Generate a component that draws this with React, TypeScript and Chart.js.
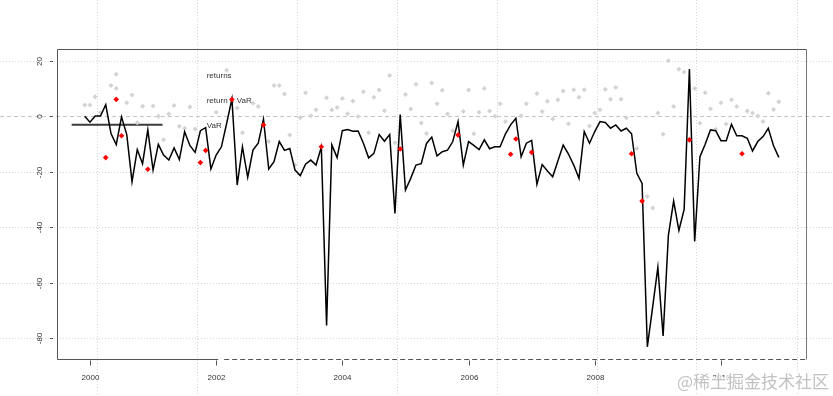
import React, { useEffect, useRef } from 'react';
import { Chart, registerables } from 'chart.js';

Chart.register(...registerables);

// first observation: December 1999, monthly
const START = 1999 + 11 / 12;

// VaR estimate (black line)
const varLine = [
  0, -2.1, 0.1, 0.1, 4.2, -6.2, -10.2, -0.2, -6.6, -23.6, -12, -17.1,
  -4.9, -19.4, -10.1, -14, -15.8, -11.4, -15.6, -5.6, -10.5, -13, -5.2, -4.1,
  -19, -14, -11, -2.5, 6.3, -24.8, -11, -22, -12.2, -9.7, -1, -19,
  -16.4, -9.1, -12.3, -11.6, -19.4, -21.4, -17.3, -15.8, -17.6, -11.1, -75.5, -10.3,
  -14.9, -5.2, -4.8, -5.4, -5.3, -9.7, -15, -13.4, -6.6, -9, -6.6, -35.1,
  0.6, -26.6, -22.4, -17.6, -17.1, -9.8, -7.5, -14.3, -12.8, -12.2, -9.1, -1.9,
  -17.6, -9.1, -10.5, -12, -8.5, -11.7, -11, -11, -6.4, -3.1, -0.7, -14.6,
  -9.7, -8.7, -24.5, -17.4, -19.7, -21.8, -16, -10.4, -13.6, -17.6, -22.4, -5.5,
  -9.7, -5.5, -1.9, -2.2, -4.3, -3.1, -5.3, -4.3, -6.3, -20.6, -24.2, -83.2,
  -69, -54.5, -79.3, -43, -30.6, -41.2, -33.6, 17.1, -45.2, -14.6, -10.1, -4.9,
  -5.2, -8.8, -8.8, -2.9, -7, -7, -7.9, -12.5, -9.1, -7.3, -4.3, -10.6,
  -14.8,
];

// returns (grey points); null where the month is drawn as an exceedance
const returns = [
  4.1, 4.1, 7.1, 1.3, null, 11.1, 15.2, null, 4.9, 7.7, -2.3, 3.6,
  null, 3.7, 0, -8.5, 0.8, 3.9, -3.6, -4.3, 3.4, -4.6, null, null,
  null, 1.5, null, 16.6, null, 3.0, -5.9, null, 4.7, 3.5, null, -9.1,
  11.1, 11.1, 8.1, -6.7, -17.5, -0.5, 8.5, 0.2, 2.4, null, 6.7, 2.3,
  3.2, 6.4, 0.9, 5.5, -0.1, 8.9, -5.9, 6.9, 9.5, 2.0, 14.7, -9.5,
  null, 7.9, 2.6, 11.6, -2.4, -6.2, 12.0, 4.5, 9.4, 0.8, -5.2, null,
  1.7, 9.5, -6.3, 1.5, 10.0, 1.9, 0, 4.5, -1.9, null, null, 0.2,
  4.5, null, 8.2, 1.7, 5.4, -1.0, 6.0, 9.1, -2.7, 9.6, 6.9, 9.6,
  -3.5, 1.2, 2.4, 9.8, 6.2, 10.4, 6.2, -0.5, null, -11.6, null, -28.9,
  -33.1, 1.2, -6.5, 20.1, 3.5, 17.0, 16.0, null, 10.0, -2.5, 8.5, 2.7,
  -4.7, 4.9, -2.8, 6.0, 3.5, null, 1.9, 1.2, 0.1, -1.9, 8.3, 2.5,
  5.3,
];
const extraIdx = [6];
const extraVal = [10];

// returns below VaR (red points)
const exceedIdx = [4, 6, 7, 12, 22, 23, 28, 34, 45, 60, 71, 81, 82, 85, 104, 106, 115, 125];
const exceedVal = [-14.9, 6.1, -7, -19.1, -16.7, -12.3, 6.1, -3.1, -11, -11.8, -6.7, -13.7, -8.2, -13, -13.5, -30.6, -8.5, -13.5];

const xTicks = [2000, 2002, 2004, 2006, 2008, 2010];
const yTicks = [20, 0, -20, -40, -60, -80];
const gridX = [2000.11, 2001.69, 2003.28, 2004.86, 2006.45, 2008.03, 2009.61, 2011.2];

const legendText = ['returns', 'return < VaR', 'VaR'];
const legendTextY = [14.7, 5.5, -3.5];
const legendTextX = 2001.85;
const legendLineX = [1999.71, 2001.15];
const legendLineY = -3;

const watermark = '@稀土掘金技术社区';

const monthX = (i: number) => START + i / 12;
const FONT = '"Liberation Sans", Arial, sans-serif';

const decor = {
  id: 'decor',
  beforeDraw(chart: any) {
    const { ctx, width, height } = chart;
    const xs = chart.scales.x;
    const ys = chart.scales.y;
    ctx.save();
    ctx.fillStyle = '#ffffff';
    ctx.fillRect(0, 0, width, height);
    ctx.lineWidth = 1;
    ctx.strokeStyle = '#d6d6d6';
    ctx.setLineDash([1, 2]);
    gridX.forEach((v) => {
      const px = Math.round(xs.getPixelForValue(v)) + 0.5;
      ctx.beginPath();
      ctx.moveTo(px, 0);
      ctx.lineTo(px, height);
      ctx.stroke();
    });
    yTicks.forEach((v) => {
      if (v === 0) return;
      const py = Math.round(ys.getPixelForValue(v)) + 0.5;
      ctx.beginPath();
      ctx.moveTo(0, py);
      ctx.lineTo(width, py);
      ctx.stroke();
    });
    ctx.strokeStyle = '#c4c4c4';
    ctx.setLineDash([4, 3]);
    const p0 = Math.round(ys.getPixelForValue(0)) + 0.5;
    ctx.beginPath();
    ctx.moveTo(0, p0);
    ctx.lineTo(width, p0);
    ctx.stroke();
    ctx.restore();
  },
  beforeDatasetsDraw(chart: any) {
    const { ctx } = chart;
    const xs = chart.scales.x;
    const ys = chart.scales.y;
    ctx.save();
    ctx.font = `8px ${FONT}`;
    ctx.fillStyle = '#333333';
    ctx.textAlign = 'left';
    ctx.textBaseline = 'middle';
    legendText.forEach((t, i) => {
      ctx.fillText(t, xs.getPixelForValue(legendTextX), ys.getPixelForValue(legendTextY[i]));
    });
    ctx.restore();
  },
  afterDraw(chart: any) {
    const { ctx, chartArea: a } = chart;
    const xs = chart.scales.x;
    const ys = chart.scales.y;
    ctx.save();
    ctx.lineWidth = 1;
    ctx.strokeStyle = '#555555';
    const L = Math.round(a.left) + 0.5;
    const R = Math.round(a.right) + 0.5;
    const T = Math.round(a.top) + 0.5;
    const B = Math.round(a.bottom) + 0.5;
    ctx.beginPath();
    ctx.moveTo(L, B);
    ctx.lineTo(L, T);
    ctx.lineTo(R, T);
    ctx.stroke();
    ctx.strokeStyle = '#777777';
    ctx.beginPath();
    ctx.moveTo(R, T);
    ctx.lineTo(R, B);
    ctx.stroke();
    // bottom edge: solid, then dashed
    const cut = xs.getPixelForValue(xTicks[1]) + 2;
    ctx.strokeStyle = '#555555';
    ctx.beginPath();
    ctx.moveTo(L, B);
    ctx.lineTo(cut, B);
    ctx.stroke();
    ctx.setLineDash([5, 3]);
    ctx.beginPath();
    ctx.moveTo(cut + 6, B);
    ctx.lineTo(R, B);
    ctx.stroke();
    ctx.setLineDash([]);
    // x ticks
    ctx.font = `8px ${FONT}`;
    ctx.fillStyle = '#333333';
    ctx.textAlign = 'center';
    ctx.textBaseline = 'middle';
    xTicks.forEach((v) => {
      const px = Math.round(xs.getPixelForValue(v)) + 0.5;
      ctx.beginPath();
      ctx.moveTo(px, B + 1);
      ctx.lineTo(px, B + 6);
      ctx.stroke();
      ctx.fillText(String(v), px, a.bottom + 19);
    });
    // y ticks
    yTicks.forEach((v) => {
      const py = Math.round(ys.getPixelForValue(v)) + 0.5;
      ctx.beginPath();
      ctx.moveTo(a.left - 7, py);
      ctx.lineTo(a.left - 4, py);
      ctx.stroke();
      ctx.save();
      ctx.translate(a.left - 17, py);
      ctx.rotate(-Math.PI / 2);
      ctx.fillText(String(v), 0, 0);
      ctx.restore();
    });
    // watermark
    ctx.font = '17px "Noto Sans CJK SC", sans-serif';
    ctx.textAlign = 'right';
    ctx.textBaseline = 'alphabetic';
    ctx.lineWidth = 3;
    ctx.strokeStyle = 'rgba(255,255,255,0.8)';
    ctx.strokeText(watermark, chart.width - 4, chart.height - 8);
    ctx.fillStyle = '#c2c2c2';
    ctx.fillText(watermark, chart.width - 4, chart.height - 8);
    ctx.restore();
  },
};

export default function App() {
  const ref = useRef<HTMLCanvasElement | null>(null);
  useEffect(() => {
    if (!ref.current) return;
    const greyPts = returns
      .map((v, i) => (v === null ? null : { x: monthX(i), y: v }))
      .filter((p) => p !== null)
      .concat(extraIdx.map((k, j) => ({ x: monthX(k), y: extraVal[j] })));
    const chart = new Chart(ref.current, {
      type: 'line',
      data: {
        datasets: [
          {
            label: 'legend line',
            data: legendLineX.map((x) => ({ x, y: legendLineY })),
            borderColor: '#3a3a3a',
            borderWidth: 2,
            pointRadius: 0,
            order: 4,
          },
          {
            label: 'returns',
            data: greyPts as any,
            showLine: false,
            pointStyle: 'rectRot',
            pointRadius: 2.5,
            pointBackgroundColor: '#d3d3d3',
            pointBorderColor: '#d3d3d3',
            pointBorderWidth: 0,
            order: 3,
          },
          {
            label: 'VaR',
            data: varLine.map((v, i) => ({ x: monthX(i), y: v })),
            borderColor: '#000000',
            borderWidth: 1.5,
            pointRadius: 0,
            tension: 0,
            order: 2,
          },
          {
            label: 'return < VaR',
            data: exceedIdx.map((k, j) => ({ x: monthX(k), y: exceedVal[j] })),
            showLine: false,
            pointStyle: 'rectRot',
            pointRadius: 2.8,
            pointBackgroundColor: '#ff0000',
            pointBorderColor: '#ff0000',
            pointBorderWidth: 0,
            order: 1,
          },
        ],
      },
      options: {
        animation: false,
        responsive: false,
        events: [],
        layout: { padding: { left: 57, right: 27, top: 49, bottom: 37 } },
        plugins: { legend: { display: false }, tooltip: { enabled: false } },
        scales: {
          x: { type: 'linear', display: false, min: 1999.4777, max: 2011.3477 },
          y: { type: 'linear', display: false, min: -87.6, max: 24.3 },
        },
      },
      plugins: [decor],
    });
    return () => chart.destroy();
  }, []);
  return (
    <div style={{ position: 'fixed', left: 0, top: 0, width: 833, height: 396, background: '#fff' }}>
      <canvas ref={ref} width={833} height={396} />
    </div>
  );
}
